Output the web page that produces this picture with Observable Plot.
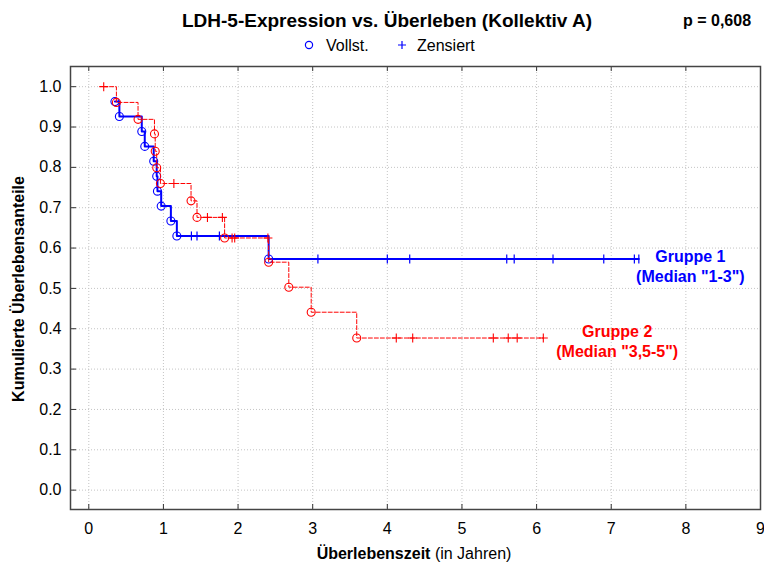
<!DOCTYPE html>
<html>
<head>
<meta charset="utf-8">
<script src="https://cdn.jsdelivr.net/npm/d3@7"></script>
<script src="https://cdn.jsdelivr.net/npm/@observablehq/plot@0.6"></script>
<style>
  body { margin: 0; background: #fff; }
  #wrap { position: relative; width: 764px; height: 566px; font-family: "Liberation Sans", Arial, sans-serif; }
  #chart { position: absolute; left: 0; top: 60px; }
  #overlay { position: absolute; left: 0; top: 0; pointer-events: none; }
</style>
</head>
<body>
<div id="wrap">
  <div id="chart"></div>
  <svg id="overlay" width="764" height="566"></svg>
</div>
<script>
// Kaplan-Meier survival by LDH-5 expression (Kollektiv A)
const title = "LDH-5-Expression vs. Überleben (Kollektiv A)";
const pText = "p = 0,608";
const legendLabels = ["Vollst.", "Zensiert"];
const xLabelBold = "Überlebenszeit";
const xLabelRest = " (in Jahren)";
const yLabel = "Kumulierte Überlebensanteile";
const groupLabels = ["Gruppe 1\n(Median \"1-3\")", "Gruppe 2\n(Median \"3,5-5\")"];

const xTicks = [0, 1, 2, 3, 4, 5, 6, 7, 8, 9];
const yTicks = [0, 0.1, 0.2, 0.3, 0.4, 0.5, 0.6, 0.7, 0.8, 0.9, 1.0];

// Gruppe 1: complete observations (events) and censored cases
const g1EventT = [0.35, 0.41, 0.71, 0.75, 0.87, 0.91, 0.92, 0.97, 1.10, 1.18, 2.41];
const g1EventS = [0.963, 0.926, 0.889, 0.852, 0.815, 0.778, 0.741, 0.704, 0.667, 0.630, 0.573];
const g1CensT = [1.375, 1.45, 1.75, 3.07, 4.00, 4.30, 5.60, 5.70, 6.22, 6.90, 7.31, 7.37];
const g1CensS = [0.630, 0.630, 0.630, 0.573, 0.573, 0.573, 0.573, 0.573, 0.573, 0.573, 0.573, 0.573];

// Gruppe 2
const g2EventT = [0.37, 0.66, 0.88, 0.89, 0.91, 0.96, 1.37, 1.45, 1.82, 2.41, 2.68, 2.98, 3.59];
const g2EventS = [0.961, 0.919, 0.883, 0.840, 0.799, 0.760, 0.717, 0.676, 0.625, 0.565, 0.503, 0.441, 0.377];
const g2CensT = [0.20, 1.14, 1.59, 1.79, 1.92, 1.955, 2.40, 4.12, 4.34, 5.42, 5.62, 5.74, 6.09];
const g2CensS = [1.0, 0.760, 0.676, 0.676, 0.625, 0.625, 0.625, 0.377, 0.377, 0.377, 0.377, 0.377, 0.377];

const BLUE = "#0000ff";
const RED = "#ff0000";

const toPts = (ts, ss) => ts.map((t, i) => ({t, s: ss[i]}));
const g1Events = toPts(g1EventT, g1EventS);
const g1Cens = toPts(g1CensT, g1CensS);
const g2Events = toPts(g2EventT, g2EventS);
const g2Cens = toPts(g2CensT, g2CensS);
// step curve passes through every observation, in time order
const g1Curve = [...g1Events, ...g1Cens].sort((a, b) => a.t - b.t);
const g2Curve = [...g2Events, ...g2Cens].sort((a, b) => a.t - b.t);

// stroke-only marker shapes: vertical bar and plus
const barSymbol = {draw(ctx, size) { const h = Math.sqrt(size / Math.PI); ctx.moveTo(0, -h); ctx.lineTo(0, h); }};
const plusSymbol = {draw(ctx, size) { const h = Math.sqrt(size / Math.PI); ctx.moveTo(0, -h); ctx.lineTo(0, h); ctx.moveTo(-h, 0); ctx.lineTo(h, 0); }};

const W = 764, H = 506, mT = 6, mB = 57, mL = 70, mR = 4;
const innerH = H - mT - mB, innerW = W - mL - mR;
const grid = {stroke: "#c4c4c4", strokeOpacity: 1, strokeDasharray: "1,2"};

const chart = Plot.plot({
  width: W, height: H,
  marginTop: mT, marginBottom: mB, marginLeft: mL, marginRight: mR,
  style: {fontFamily: "'Liberation Sans', Arial, sans-serif", background: "#fff", color: "#000"},
  x: {domain: [-0.245, 9]},
  y: {domain: [-0.048, 1.05]},
  marks: [
    Plot.gridX(xTicks, grid),
    Plot.gridY(yTicks, grid),
    Plot.axisX(xTicks, {anchor: "bottom", tickSize: 0, tickPadding: 13, fontSize: 16, label: null, tickFormat: d => String(d)}),
    Plot.axisY(yTicks, {anchor: "left", tickSize: 0, tickPadding: 9, fontSize: 16, label: null, tickFormat: d => d.toFixed(1)}),
    // inward ticks
    Plot.tickX(xTicks, {x: d => d, insetTop: innerH - 5, stroke: "#333"}),
    Plot.tickX(xTicks, {x: d => d, insetBottom: innerH - 5, stroke: "#333"}),
    Plot.tickY(yTicks, {y: d => d, insetRight: innerW - 6, stroke: "#333"}),
    Plot.frame({stroke: "#444", strokeWidth: 1.5}),
    // Gruppe 1
    Plot.line(g1Curve, {x: "t", y: "s", curve: "step-after", stroke: BLUE, strokeWidth: 2}),
    Plot.dot(g1Events, {x: "t", y: "s", r: 4, stroke: BLUE, strokeWidth: 1.1, fill: "none"}),
    Plot.dot(g1Cens, {x: "t", y: "s", r: 4.5, symbol: barSymbol, stroke: BLUE, strokeWidth: 1.2}),
    // Gruppe 2
    Plot.line(g2Curve, {x: "t", y: "s", curve: "step-after", stroke: RED, strokeWidth: 1, strokeDasharray: "4,2"}),
    Plot.dot(g2Events, {x: "t", y: "s", r: 4, stroke: RED, strokeWidth: 1.1, fill: "none"}),
    Plot.dot(g2Cens, {x: "t", y: "s", r: 4.5, symbol: plusSymbol, stroke: RED, strokeWidth: 1.1}),
    // group annotations
    Plot.text([groupLabels[0]], {x: 8.06, y: 0.556, text: d => d, fill: BLUE, fontSize: 16, fontWeight: "bold", lineHeight: 1.25, textAnchor: "middle"}),
    Plot.text([groupLabels[1]], {x: 7.08, y: 0.371, text: d => d, fill: RED, fontSize: 16, fontWeight: "bold", lineHeight: 1.25, textAnchor: "middle"})
  ]
});
document.getElementById("chart").appendChild(chart);

// title, legend and axis titles
const svg = d3.select("#overlay").style("font-family", "'Liberation Sans', Arial, sans-serif");
svg.append("text").attr("x", 387).attr("y", 27).attr("text-anchor", "middle")
  .attr("font-size", 19).attr("font-weight", "bold").text(title);
svg.append("text").attr("x", 683).attr("y", 26)
  .attr("font-size", 16).attr("font-weight", "bold").text(pText);
svg.append("circle").attr("cx", 309).attr("cy", 45).attr("r", 3.6)
  .attr("fill", "none").attr("stroke", BLUE).attr("stroke-width", 1.2);
svg.append("text").attr("x", 326).attr("y", 51).attr("font-size", 16).text(legendLabels[0]);
svg.append("path").attr("d", "M398,45H406M402,41V49").attr("stroke", BLUE).attr("stroke-width", 1.2);
svg.append("text").attr("x", 417).attr("y", 51).attr("font-size", 16).text(legendLabels[1]);
const xl = svg.append("text").attr("x", 414).attr("y", 559).attr("text-anchor", "middle").attr("font-size", 16);
xl.append("tspan").attr("font-weight", "bold").text(xLabelBold);
xl.append("tspan").text(xLabelRest);
svg.append("text").attr("transform", "translate(24,289) rotate(-90)").attr("text-anchor", "middle")
  .attr("font-size", 16).attr("font-weight", "bold").text(yLabel);
</script>
</body>
</html>
